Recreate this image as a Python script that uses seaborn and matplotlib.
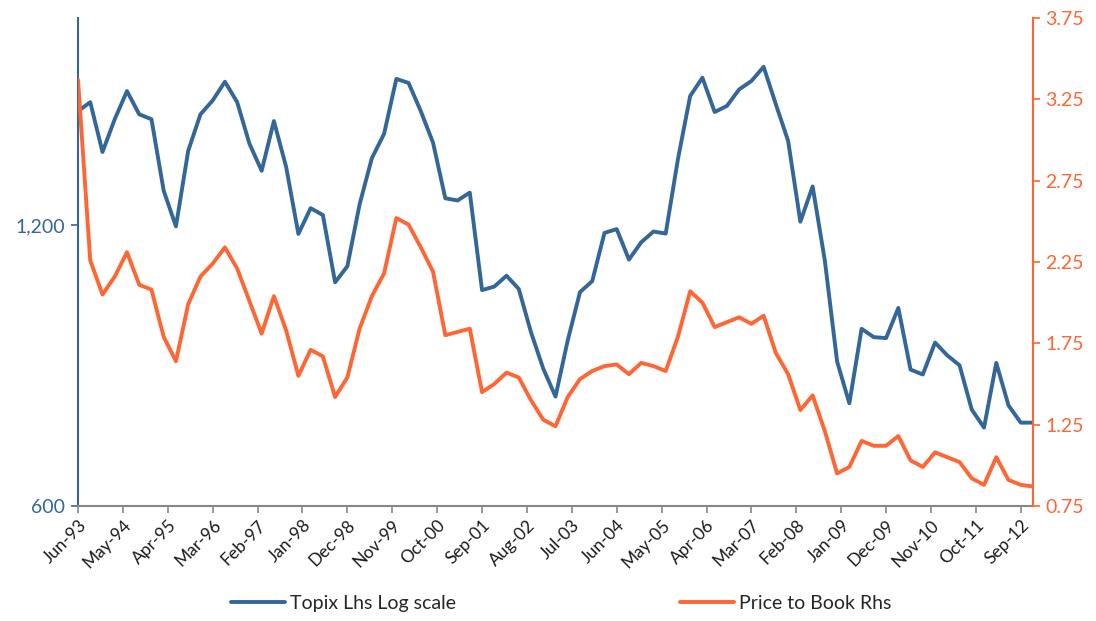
import numpy as np
import pandas as pd
import matplotlib
matplotlib.use("Agg")
import matplotlib.pyplot as plt
import seaborn as sns
from matplotlib.ticker import FixedLocator, NullLocator, FuncFormatter

# ---- data (quarterly, Jun-93 .. Dec-12) ----
dates = pd.date_range("1993-06-01", periods=79, freq="3MS")

topix = [1589, 1625, 1437, 1558, 1670, 1577, 1558, 1306, 1196, 1441,
         1577, 1632, 1709, 1625, 1467, 1372, 1551, 1385, 1174, 1251,
         1230, 1042, 1084, 1263, 1415, 1503, 1721, 1704, 1589, 1470,
         1282, 1275, 1300, 1022, 1031, 1059, 1025, 921, 842, 786,
         903, 1017, 1045, 1177, 1188, 1102, 1150, 1181, 1175, 1412,
         1650, 1726, 1586, 1610, 1677, 1712, 1773, 1616, 1477, 1210,
         1320, 1099, 857, 773, 929, 910, 908, 978, 840, 830,
         898, 870, 849, 761, 728, 854, 769, 737, 737]

pbr = [3.37, 2.26, 2.05, 2.16, 2.31, 2.11, 2.08, 1.79, 1.64, 1.99,
       2.16, 2.24, 2.34, 2.21, 2.01, 1.81, 2.04, 1.83, 1.55, 1.71,
       1.67, 1.42, 1.54, 1.84, 2.04, 2.18, 2.52, 2.48, 2.34, 2.19,
       1.80, 1.82, 1.84, 1.45, 1.50, 1.57, 1.54, 1.40, 1.28, 1.24,
       1.42, 1.53, 1.58, 1.61, 1.62, 1.56, 1.63, 1.61, 1.58, 1.79,
       2.07, 2.00, 1.85, 1.88, 1.91, 1.87, 1.92, 1.69, 1.56, 1.34,
       1.43, 1.21, 0.95, 0.99, 1.15, 1.12, 1.12, 1.18, 1.03, 0.99,
       1.08, 1.05, 1.02, 0.92, 0.88, 1.05, 0.91, 0.88, 0.87]

tick_labels = ["Jun-93", "May-94", "Apr-95", "Mar-96", "Feb-97", "Jan-98",
               "Dec-98", "Nov-99", "Oct-00", "Sep-01", "Aug-02", "Jul-03",
               "Jun-04", "May-05", "Apr-06", "Mar-07", "Feb-08", "Jan-09",
               "Dec-09", "Nov-10", "Oct-11", "Sep-12"]
left_ticks = [600, 1200]
right_ticks = [0.75, 1.25, 1.75, 2.25, 2.75, 3.25, 3.75]

# month offsets from Jun-93
months = (dates.year - 1993) * 12 + (dates.month - 6)
df = pd.DataFrame({"m": months, "Topix Lhs Log scale": topix,
                   "Price to Book Rhs": pbr})
tick_pos = [pd.to_datetime(l, format="%b-%y") for l in tick_labels]
tick_m = [(t.year - 1993) * 12 + (t.month - 6) for t in tick_pos]

BLUE = "#336699"
ORANGE = "#FF6633"
GREY = "#868686"

sns.set_style("white")
plt.rcParams["font.family"] = ["Lato", "DejaVu Sans"]

fig = plt.figure(figsize=(10.96, 6.21), dpi=100)
ax = fig.add_axes([78 / 1096, 1 - 506 / 621, (1033 - 78) / 1096, (506 - 18) / 621])
ax2 = ax.twinx()

sns.lineplot(data=df, x="m", y="Topix Lhs Log scale", ax=ax, color=BLUE,
             linewidth=2.8, label="Topix Lhs Log scale", legend=False)
sns.lineplot(data=df, x="m", y="Price to Book Rhs", ax=ax2, color=ORANGE,
             linewidth=2.8, label="Price to Book Rhs", legend=False)

ax.set_yscale("log", base=2)
ax.set_ylim(600, 2000)
ax.yaxis.set_major_locator(FixedLocator(left_ticks))
ax.yaxis.set_minor_locator(NullLocator())
ax.yaxis.set_major_formatter(FuncFormatter(lambda v, p: f"{v:,.0f}"))
ax2.set_ylim(0.75, 3.75)
ax2.set_yticks(right_ticks)
ax2.set_yticklabels([f"{v:.2f}" for v in right_ticks])

ax.set_xlim(0, 234)
ax.set_xticks(tick_m)
ax.set_xticklabels(tick_labels, rotation=45, ha="right", rotation_mode="anchor",
                   fontsize=12.5, color="#1a1a1a")
ax.set_xlabel("")
ax.set_ylabel("")
ax2.set_ylabel("")

for a in (ax, ax2):
    a.spines["top"].set_visible(False)
    a.grid(False)
ax.spines["right"].set_visible(False)
ax.spines["left"].set_color(BLUE)
ax.spines["left"].set_linewidth(1.5)
ax.spines["bottom"].set_color(GREY)
ax.spines["bottom"].set_linewidth(1.5)
ax2.spines["left"].set_visible(False)
ax2.spines["bottom"].set_visible(False)
ax2.spines["right"].set_color(ORANGE)
ax2.spines["right"].set_linewidth(1.5)

ax.tick_params(axis="y", which="major", direction="out", length=5, width=1.2,
               color=BLUE, labelcolor=BLUE, labelsize=14, left=True, pad=4)
ax.tick_params(axis="x", direction="out", length=5, width=1.2, color=GREY,
               bottom=True, pad=3)
ax2.tick_params(axis="y", direction="out", length=5, width=1.2, color=ORANGE,
                labelcolor=ORANGE, labelsize=14, right=True, pad=4)

handles = ax.get_lines()[:1] + ax2.get_lines()[:1]
fig.legend(handles, ["Topix Lhs Log scale", "Price to Book Rhs"], loc="lower center",
           bbox_to_anchor=(0.512, -0.014), ncol=2, frameon=False, fontsize=14,
           columnspacing=11.5, handlelength=2.8, handletextpad=0.25)

fig.savefig("out.png", dpi=100)
